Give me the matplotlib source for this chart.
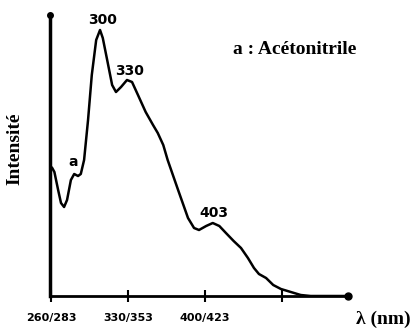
import matplotlib
matplotlib.use('Agg')
import matplotlib.pyplot as plt

# spectre d'emission
wavelength = [261, 263, 266.4, 269, 271.8, 274.5, 278, 281, 284.5, 287, 290, 293.6, 297,
              301, 304.5, 307, 311, 315.5, 319, 323.6, 329, 333.6, 339, 346, 352.7, 357,
              362, 366, 375.5, 384.5, 390, 394.5, 401, 407, 413, 419, 426, 432.7, 439,
              444.5, 449, 455.5, 462, 469, 478, 487, 496, 530]
intensity = [128, 124, 106, 93, 89, 96, 116, 122, 120, 122, 136, 176, 221,
             256, 266, 258, 236, 211, 204, 209, 216, 214, 201, 184, 171, 163,
             151, 136, 106, 78, 68, 66, 70, 73, 70, 63, 55, 48, 38,
             28, 22, 18, 11, 7, 4, 1, 0, 0]

tick_pos = [260, 330, 400, 470]
tick_labels = ['260/283', '330/353', '400/423', '']

peak_labels = ['300', '330', '403', 'a']
peak_x = [307, 331, 408, 280]
peak_y = [276, 225, 83, 134]

fig = plt.figure(figsize=(4.13, 3.28), dpi=100)
ax = fig.add_axes([50 / 413, 32 / 328, 298 / 413, 281 / 328])

ax.plot(wavelength, intensity, color='black', lw=1.8)

ax.set_xlim(259, 530)
ax.set_ylim(0, 281)

ax.spines['top'].set_visible(False)
ax.spines['right'].set_visible(False)
ax.spines['left'].set_linewidth(2.5)
ax.spines['bottom'].set_linewidth(2)

# points aux extremites des axes
ax.plot([530], [0], 'o', color='black', ms=5, clip_on=False)
ax.plot([259], [281], 'o', color='black', ms=4, clip_on=False)

ax.set_yticks([])
ax.set_xticks(tick_pos)
ax.set_xticklabels(tick_labels, fontfamily='DejaVu Sans', fontweight='bold', fontsize=8)
ax.tick_params(axis='x', direction='inout', length=8, width=1.5, pad=8)

for lab, x, y in zip(peak_labels, peak_x, peak_y):
    ax.text(x, y, lab, ha='center', va='center', fontfamily='DejaVu Sans',
            fontweight='bold', fontsize=10)

fig.text(295 / 413, 1 - 50 / 328, 'a : Acétonitrile', ha='center', va='center',
         fontfamily='Liberation Serif', fontweight='bold', fontsize=14)
fig.text(15 / 413, 1 - 149 / 328, 'Intensité', rotation=90, ha='center', va='center',
         fontfamily='Liberation Serif', fontweight='bold', fontsize=14)
fig.text(383 / 413, 1 - 319 / 328, 'λ (nm)', ha='center', va='center',
         fontfamily='Liberation Serif', fontweight='bold', fontsize=14)

plt.savefig('out.png', dpi=100)
